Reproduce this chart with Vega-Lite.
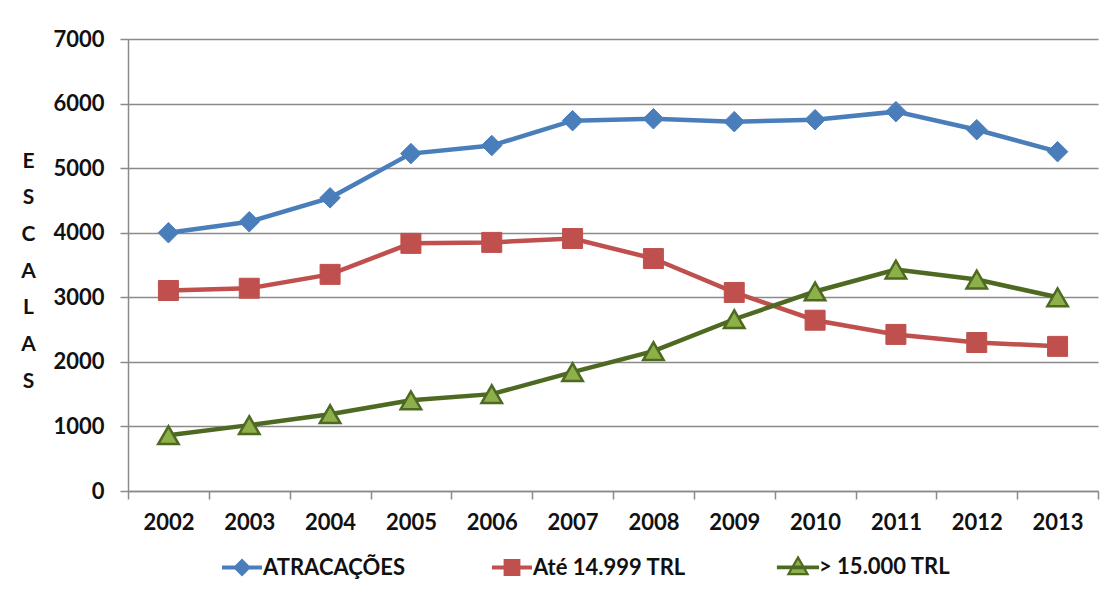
{
  "$schema": "https://vega.github.io/schema/vega-lite/v6.json",
  "width": 970,
  "height": 452,
  "autosize": "none",
  "padding": {"left": 128, "top": 39, "right": 9, "bottom": 108},
  "background": "white",
  "config": {
    "view": {"stroke": null},
    "font": "Lato",
    "axis": {
      "labelFont": "Lato",
      "labelFontWeight": "bold",
      "labelFontSize": 22,
      "labelColor": "#111111",
      "domainColor": "#8a8a8a",
      "domainWidth": 1.5,
      "tickColor": "#8a8a8a",
      "tickWidth": 1.5,
      "tickSize": 8,
      "gridColor": "#8a8a8a",
      "gridWidth": 1.5
    },
    "legend": {
      "orient": "none",
      "direction": "horizontal",
      "legendX": 103,
      "legendY": 517,
      "padding": 0,
      "symbolSize": 400,
      "labelFont": "Lato",
      "labelFontWeight": "bold",
      "labelFontSize": 22,
      "labelColor": "#111111",
      "labelOffset": 10,
      "columnPadding": 87
    }
  },
  "data": {
    "values": [
      {"year": "2002", "series": "ATRACAÇÕES", "value": 4000},
      {"year": "2003", "series": "ATRACAÇÕES", "value": 4170},
      {"year": "2004", "series": "ATRACAÇÕES", "value": 4540},
      {"year": "2005", "series": "ATRACAÇÕES", "value": 5225},
      {"year": "2006", "series": "ATRACAÇÕES", "value": 5350},
      {"year": "2007", "series": "ATRACAÇÕES", "value": 5735},
      {"year": "2008", "series": "ATRACAÇÕES", "value": 5765},
      {"year": "2009", "series": "ATRACAÇÕES", "value": 5720},
      {"year": "2010", "series": "ATRACAÇÕES", "value": 5750},
      {"year": "2011", "series": "ATRACAÇÕES", "value": 5875},
      {"year": "2012", "series": "ATRACAÇÕES", "value": 5595},
      {"year": "2013", "series": "ATRACAÇÕES", "value": 5255},
      {"year": "2002", "series": "Até 14.999 TRL", "value": 3105},
      {"year": "2003", "series": "Até 14.999 TRL", "value": 3140},
      {"year": "2004", "series": "Até 14.999 TRL", "value": 3355},
      {"year": "2005", "series": "Até 14.999 TRL", "value": 3835},
      {"year": "2006", "series": "Até 14.999 TRL", "value": 3850},
      {"year": "2007", "series": "Até 14.999 TRL", "value": 3910},
      {"year": "2008", "series": "Até 14.999 TRL", "value": 3600},
      {"year": "2009", "series": "Até 14.999 TRL", "value": 3075},
      {"year": "2010", "series": "Até 14.999 TRL", "value": 2645},
      {"year": "2011", "series": "Até 14.999 TRL", "value": 2425},
      {"year": "2012", "series": "Até 14.999 TRL", "value": 2300},
      {"year": "2013", "series": "Até 14.999 TRL", "value": 2240},
      {"year": "2002", "series": "> 15.000 TRL", "value": 865},
      {"year": "2003", "series": "> 15.000 TRL", "value": 1020},
      {"year": "2004", "series": "> 15.000 TRL", "value": 1190},
      {"year": "2005", "series": "> 15.000 TRL", "value": 1405},
      {"year": "2006", "series": "> 15.000 TRL", "value": 1500},
      {"year": "2007", "series": "> 15.000 TRL", "value": 1840},
      {"year": "2008", "series": "> 15.000 TRL", "value": 2165},
      {"year": "2009", "series": "> 15.000 TRL", "value": 2660},
      {"year": "2010", "series": "> 15.000 TRL", "value": 3090},
      {"year": "2011", "series": "> 15.000 TRL", "value": 3430},
      {"year": "2012", "series": "> 15.000 TRL", "value": 3275},
      {"year": "2013", "series": "> 15.000 TRL", "value": 3000}
    ]
  },
  "encoding": {
    "x": {
      "field": "year",
      "type": "ordinal",
      "scale": {"paddingInner": 0, "paddingOuter": 0},
      "axis": {
        "title": null,
        "labelAngle": 0,
        "labelPadding": 13,
        "tickBand": "extent",
        "grid": false
      }
    },
    "y": {
      "field": "value",
      "type": "quantitative",
      "scale": {"domain": [0, 7000], "nice": false},
      "axis": {
        "values": [0, 1000, 2000, 3000, 4000, 5000, 6000, 7000],
        "format": "d",
        "labelPadding": 16,
        "grid": true,
        "title": ["E", "S", "C", "A", "L", "A", "S"],
        "titleFont": "Lato",
        "titleFontWeight": "bold",
        "titleFontSize": 21,
        "titleColor": "#111111",
        "titleAngle": 0,
        "titleAlign": "center",
        "titleBaseline": "alphabetic",
        "titleLineHeight": 36.7,
        "titleX": -100,
        "titleY": 128
      }
    }
  },
  "layer": [
    {
      "mark": {"type": "line", "strokeWidth": 4.5},
      "encoding": {
        "color": {
          "field": "series",
          "type": "nominal",
          "scale": {
            "domain": ["ATRACAÇÕES", "Até 14.999 TRL", "> 15.000 TRL"],
            "range": ["#4A7EBB", "#C0504D", "#4E6A22"]
          },
          "legend": {
            "title": null,
            "symbolSize": 400,
            "encode": {
              "symbols": {
                "update": {
                  "shape": {"signal": "datum.value === 'ATRACAÇÕES' ? 'M-1,-0.1H1V0.1H-1Z M0,-0.45L0.45,0L0,0.45L-0.45,0Z' : datum.value === 'Até 14.999 TRL' ? 'M-1,-0.1H1V0.1H-1Z M-0.42,-0.42H0.42V0.42H-0.42Z' : 'M-1,-0.04H1V0.04H-1Z M0,-0.5L0.48,0.34H-0.48Z'"},
                  "size": {"value": 1600},
                  "fill": {"signal": "datum.value === 'ATRACAÇÕES' ? '#4A7EBB' : datum.value === 'Até 14.999 TRL' ? '#C0504D' : '#8DB04A'"},
                  "stroke": {"signal": "datum.value === 'ATRACAÇÕES' ? '#4A7EBB' : datum.value === 'Até 14.999 TRL' ? '#C0504D' : '#4E6A22'"},
                  "strokeWidth": {"signal": "datum.value === '> 15.000 TRL' ? 2.2 : 0"},
                  "opacity": {"value": 1}
                }
              }
            }
          }
        }
      }
    },
    {
      "transform": [{"filter": "datum.series === 'ATRACAÇÕES'"}],
      "mark": {"type": "point", "shape": "diamond", "filled": true, "size": 420, "opacity": 1, "fill": "#4A7EBB", "stroke": "#4A7EBB", "strokeWidth": 1}
    },
    {
      "transform": [{"filter": "datum.series === 'Até 14.999 TRL'"}],
      "mark": {"type": "point", "shape": "square", "filled": true, "size": 400, "opacity": 1, "fill": "#C0504D", "stroke": "#C0504D", "strokeWidth": 1}
    },
    {
      "transform": [{"filter": "datum.series === '> 15.000 TRL'"}],
      "mark": {"type": "point", "shape": "triangle-up", "filled": true, "size": 420, "opacity": 1, "fill": "#8DB04A", "stroke": "#4E6A22", "strokeWidth": 2.5}
    }
  ]
}
